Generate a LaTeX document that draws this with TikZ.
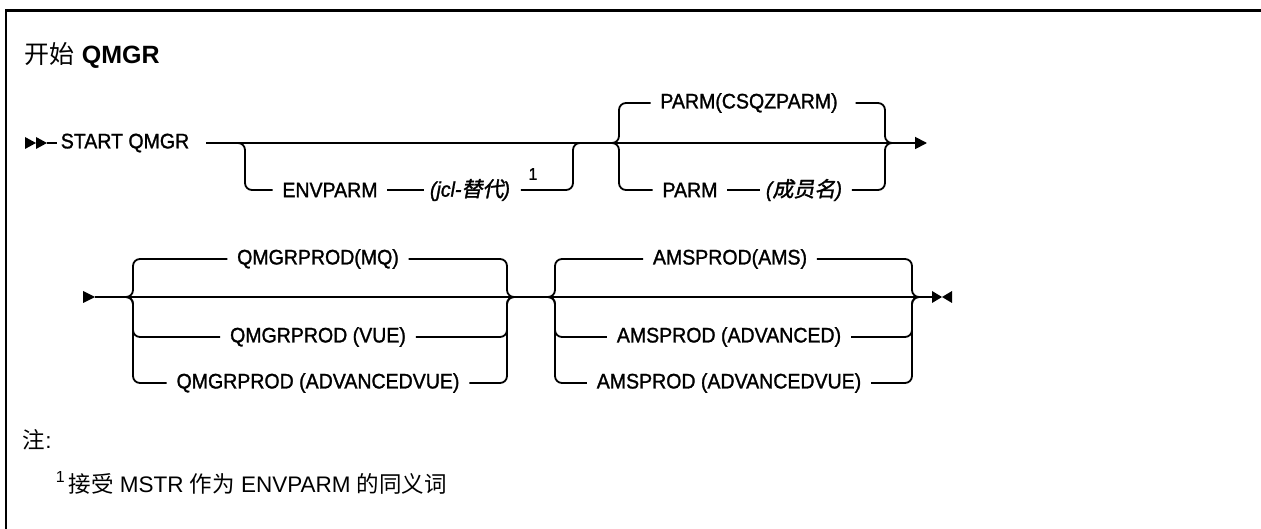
\documentclass[tikz,border=0pt]{standalone}
\usepackage{fontspec}
\setmainfont{Liberation Sans}
\newfontfamily\dg{Liberation Sans}[FakeBold=1.3,FakeStretch=0.93]
\newfontfamily\cjk{Noto Sans CJK SC}
\newfontfamily\cjkit{Noto Sans CJK SC}[FakeSlant=0.2,FakeBold=1.5]
\usetikzlibrary{arrows.meta}
\begin{document}
\begin{tikzpicture}[x=1pt,y=-1pt,line width=1.8pt,
  lbl/.style={font=\dg\fontsize{21}{23}\selectfont,inner sep=0pt,inner xsep=9pt},
  br/.style={rounded corners=7pt},
  headtip/.style={-{Triangle[length=12pt,width=12pt]}}]
\useasboundingbox (0,0) rectangle (1261,529);
% frame
\draw[line width=2.5pt] (6,540) -- (6,10.5) -- (1275,10.5);
% title
\node[anchor=west,inner sep=0pt,font=\fontsize{25}{29}\selectfont] (title) at (24,55) {{\cjk 开始} \textbf{QMGR}};

% ---------- row 1 ----------
\fill (25,137) -- (36,143) -- (25,149) -- cycle;
\fill (36,137) -- (47,143) -- (36,149) -- cycle;
\coordinate (dbl) at (47,143);
\node[lbl,inner xsep=3pt] (start) at (125,143) {START QMGR};
\draw (dbl) -- (start.west);
\coordinate (r1end) at (927,143);
\draw[headtip] ([xshift=13pt]start.east) -- (r1end);

% ENVPARM branch
\node[lbl] (env) at (330,190) {ENVPARM};
\node[lbl,inner xsep=5pt] (jcl) at (470,190) {\itshape (jcl-{\cjkit 替代})};
\node[inner sep=0pt,font=\dg\fontsize{17}{18}\selectfont] (n1) at (533,174) {1};
\coordinate (ea) at (232,143);
\coordinate (eb) at (586,143);
\draw[br] (ea) -- (245,143) -- (245,190) -- (env.west);
\draw (env.east) -- (jcl.west);
\draw[br] ([xshift=5pt]jcl.east) -- (573,190) -- (573,143) -- (eb);

% PARM block
\node[lbl] (pdef) at (749,103) {PARM(CSQZPARM)};
\node[lbl] (parm) at (690,190) {PARM};
\node[lbl,inner xsep=5pt] (mem) at (804,190) {\itshape ({\cjkit 成员名})};
\coordinate (pa) at (606,143);
\coordinate (pb) at (898,143);
\draw[br] (pa) -- (619,143) -- (619,103) -- (pdef.west);
\draw[br] ([xshift=8pt]pdef.east) -- (885,103) -- (885,143) -- (pb);
\draw[br] (pa) -- (619,143) -- (619,190) -- (parm.west);
\draw (parm.east) -- (mem.west);
\draw[br] ([xshift=4pt]mem.east) -- (885,190) -- (885,143) -- (pb);

% ---------- row 2 ----------
\fill (83,291) -- (95,297) -- (83,303) -- cycle;
\coordinate (r2s) at (95,297);
\coordinate (r2e) at (932,297);
\draw (r2s) -- (r2e);
\fill (932,291) -- (942,297) -- (932,303) -- cycle;
\fill (952,291) -- (942,297) -- (952,303) -- cycle;

% QMGRPROD block
\node[lbl] (q1) at (318,259) {QMGRPROD(MQ)};
\node[lbl] (q2) at (318,337) {QMGRPROD (VUE)};
\node[lbl] (q3) at (318,383) {QMGRPROD (ADVANCEDVUE)};
\coordinate (qa) at (120,297);
\coordinate (qb) at (520,297);
\foreach \n/\y in {q1/259,q2/337,q3/383}{
  \draw[br] (qa) -- (133,297) -- (133,\y) -- (\n.west);
  \draw[br] (\n.east) -- (507,\y) -- (507,297) -- (qb);
}

% AMSPROD block
\node[lbl] (a1) at (730,259) {AMSPROD(AMS)};
\node[lbl] (a2) at (729,337) {AMSPROD (ADVANCED)};
\node[lbl] (a3) at (729,383) {AMSPROD (ADVANCEDVUE)};
\coordinate (aa) at (542,297);
\coordinate (ab) at (925,297);
\foreach \n/\y in {a1/259,a2/337,a3/383}{
  \draw[br] (aa) -- (555,297) -- (555,\y) -- (\n.west);
  \draw[br] (\n.east) -- (912,\y) -- (912,297) -- (ab);
}

% notes
\node[anchor=west,inner sep=0pt,font=\fontsize{22.5}{26}\selectfont] (note) at (22,440) {{\cjk 注}:};
\node[anchor=west,inner sep=0pt,font=\fontsize{22.5}{26}\selectfont] (fn) at (55,483)
  {\raisebox{0.42em}{\fontsize{16}{17}\selectfont 1}\,{\cjk 接受} MSTR {\cjk 作为} ENVPARM {\cjk 的同义词}};
\end{tikzpicture}
\end{document}
